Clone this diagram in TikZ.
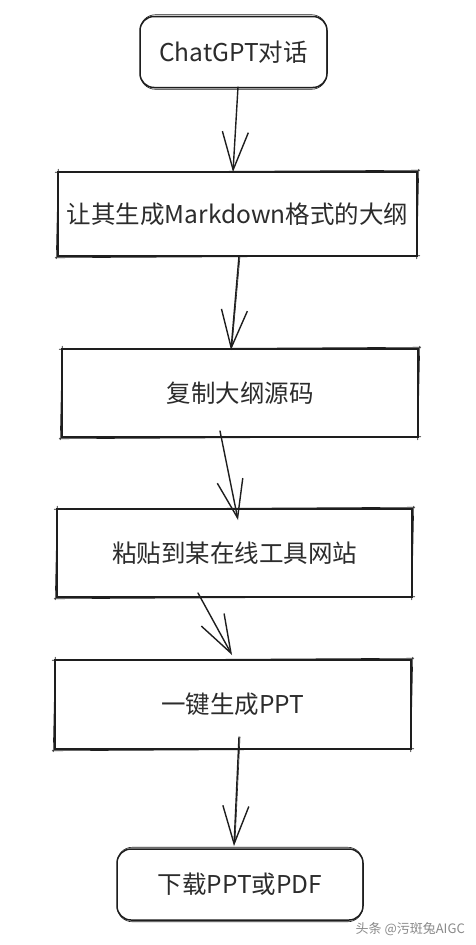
\documentclass[tikz,border=0pt]{standalone}
\usepackage{fontspec}
\setmainfont{Noto Sans CJK SC}
\usetikzlibrary{arrows.meta,calc}
\definecolor{ink}{HTML}{1E1E1E}
\definecolor{txt}{HTML}{2C2C2C}
\definecolor{wm}{HTML}{8A8A8A}
\tikzset{
  stepbox/.style={draw=ink, line width=1.5pt, minimum height=#1, inner sep=0pt,
     font=\fontsize{24.5}{28}\selectfont, text=txt},
  roundbox/.style={stepbox=#1, rounded corners=14pt},
  flow/.style={draw=ink, line width=1.4pt, line cap=round,
     -{Straight Barb[length=38pt,width=26pt,line width=1.4pt]}},
  ghost/.style={draw=ink, line width=0.6pt, line cap=round},
}
\begin{document}
\begin{tikzpicture}[x=1pt,y=-1pt]
\useasboundingbox[fill=white] (0,0) rectangle (476,945);

\node[roundbox=71pt, minimum width=187pt] (b1) at (233.5,52) {ChatGPT对话};
\node[stepbox=84pt, minimum width=359pt] (b2) at (237.5,214) {让其生成Markdown格式的大纲};
\node[stepbox=88pt, minimum width=356pt] (b3) at (240,393) {复制大纲源码};
\node[stepbox=88pt, minimum width=355pt] (b4) at (234.5,553) {粘贴到某在线工具网站};
\node[stepbox=89pt, minimum width=356pt] (b5) at (233,704.5) {一键生成PPT};
\node[roundbox=71pt, minimum width=246pt] (b6) at (240,884.5) {下载PPT或PDF};

% sketchy second strokes on the boxes
\foreach \b in {b2,b3,b4,b5}{
  \draw[ghost] ([shift={(-2,1)}]\b.north west) -- ([shift={(2,-1)}]\b.north east);
  \draw[ghost] ([shift={(1,-2)}]\b.north east) -- ([shift={(-1,2)}]\b.south east);
  \draw[ghost] ([shift={(2,-1)}]\b.south east) -- ([shift={(-2,1)}]\b.south west);
  \draw[ghost] ([shift={(-1,2)}]\b.south west) -- ([shift={(1,-2)}]\b.north west);
}
\draw[ghost, rounded corners=15pt] ([shift={(1,-1)}]b1.north west) rectangle ([shift={(-1,1)}]b1.south east);
\draw[ghost, rounded corners=15pt] ([shift={(1,-1)}]b6.north west) rectangle ([shift={(-1,1)}]b6.south east);

% connector end points
\coordinate (a1s) at (238,87);   \coordinate (a1e) at (233,172);
\coordinate (a2s) at (239,256);  \coordinate (a2e) at (231,350);
\coordinate (a3s) at (220,431);  \coordinate (a3e) at (238,520);
\coordinate (a4s) at (198,593);  \coordinate (a4e) at (232,655);
\coordinate (a5s) at (239,737);  \coordinate (a5e) at (234,846);

\draw[flow] (a1s) -- (a1e);
\draw[flow] (a2s) -- (a2e);
\draw[flow] (a3s) -- (a3e);
\draw[flow] (a4s) -- (a4e);
\draw[flow] (a5s) -- (a5e);
\draw[ghost] ($(a2s)+(1,0)$) -- ($(a2e)+(1,-4)$);
\draw[ghost] ($(a5s)+(1,0)$) -- ($(a5e)+(1,-4)$);

\node[anchor=east, text=wm, font=\fontsize{13}{15}\selectfont, inner sep=0pt] (wmk) at (465,929) {头条 @污斑兔AIGC};
\end{tikzpicture}
\end{document}
